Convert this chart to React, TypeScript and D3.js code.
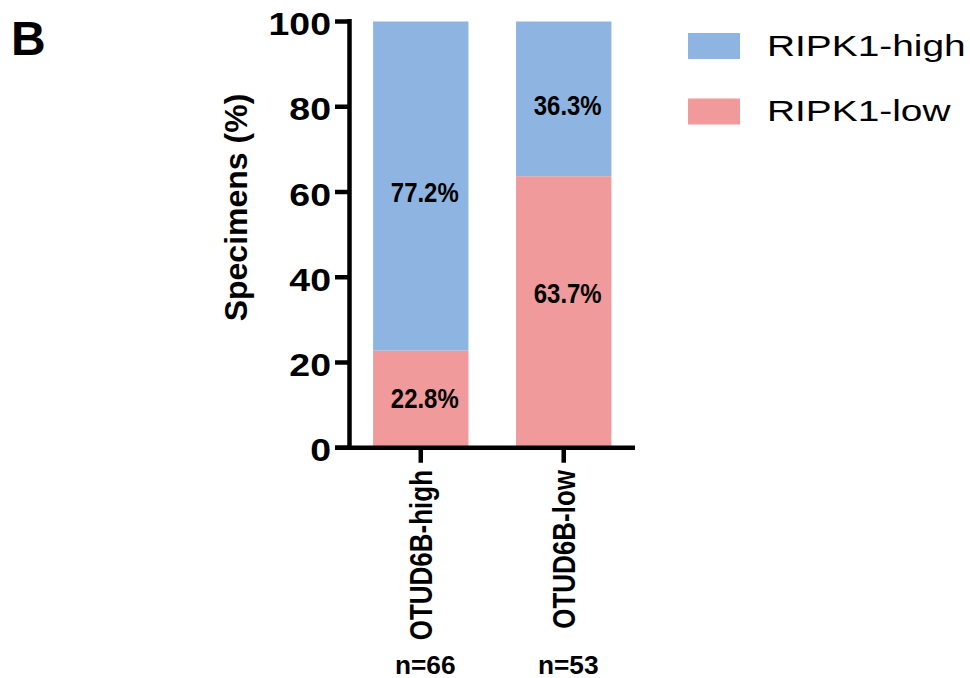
import React from "react";
import * as d3 from "d3";

const categories = ["OTUD6B-high", "OTUD6B-low"];
const sampleSizes = [66, 53];
const seriesNames = ["RIPK1-high", "RIPK1-low"];
const ripkHigh = [77.2, 36.3];
const ripkLow = [22.8, 63.7];
const highLabelAt = [60, 80.5];
const lowLabelAt = [11.6, 36.3];
const yTicks = [0, 20, 40, 60, 80, 100];

const COLORS: Record<string, string> = { "RIPK1-high": "#8EB5E2", "RIPK1-low": "#F09A9B" };
const FONT = "'Liberation Sans', Arial, Helvetica, sans-serif";

function T(props: {
  x: number; y: number; sx?: number; rot?: boolean; anchor?: string;
  size: number; weight?: string | number; children: React.ReactNode;
}) {
  const { x, y, sx = 1, rot = false, anchor = "start", size, weight = "bold", children } = props;
  return (
    <text
      transform={`translate(${x},${y}) scale(${sx},1)${rot ? " rotate(-90)" : ""}`}
      textAnchor={anchor}
      fontSize={size}
      fontWeight={weight}
      fontFamily={FONT}
      fill="#000"
    >
      {children}
    </text>
  );
}

export default function App() {
  const W = 970, H = 678;
  const axisX = 349.5;
  const y = d3.scaleLinear().domain([0, 100]).range([447.75, 21.5]);
  const x = d3.scaleBand<string>().domain(categories).range([axisX, 635]).paddingInner(0.333).paddingOuter(0.165);

  const rows = categories.map((c, i) => ({ cat: c, "RIPK1-high": ripkHigh[i], "RIPK1-low": ripkLow[i] }));
  const stack = d3.stack<any>().keys(["RIPK1-low", "RIPK1-high"]);
  const series = stack(rows);

  const labelAt: Record<string, number[]> = { "RIPK1-high": highLabelAt, "RIPK1-low": lowLabelAt };
  const values: Record<string, number[]> = { "RIPK1-high": ripkHigh, "RIPK1-low": ripkLow };

  const lw = 4.5;
  const barFs = 27.5;
  const tickFs = 32;

  return (
    <svg width={W} height={H} style={{ position: "absolute", left: 0, top: 0, background: "#fff" }}>
      <rect x={0} y={0} width={W} height={H} fill="#fff" />
      {/* panel letter */}
      <T x={11} y={55} size={48}>B</T>

      {/* bars */}
      {series.map((s) => (
        <g key={s.key}>
          {s.map((d, i) => (
            <rect
              key={i}
              x={x(categories[i])!}
              y={y(d[1])}
              width={x.bandwidth()}
              height={y(d[0]) - y(d[1])}
              fill={COLORS[s.key]}
            />
          ))}
        </g>
      ))}

      {/* bar value labels */}
      {seriesNames.map((k) =>
        categories.map((c, i) => (
          <T key={k + c} x={x(c)! + x.bandwidth() / 2 + 4} y={y(labelAt[k][i]) + 0.36 * barFs} sx={0.87} anchor="middle" size={barFs}>
            {values[k][i].toFixed(1) + "%"}
          </T>
        ))
      )}

      {/* y axis */}
      <line x1={axisX} x2={axisX} y1={y(100) - 2.5} y2={y(0) + lw / 2} stroke="#000" strokeWidth={lw} />
      {yTicks.map((t) => (
        <g key={t}>
          <line x1={335} x2={axisX} y1={y(t)} y2={y(t)} stroke="#000" strokeWidth={lw} />
          <T x={331} y={y(t) + 13.5} sx={1.17} anchor="end" size={tickFs}>{t}</T>
        </g>
      ))}

      {/* x axis */}
      <line x1={335} x2={635} y1={y(0)} y2={y(0)} stroke="#000" strokeWidth={lw} />
      {categories.map((c, i) => {
        const cx = x(c)! + x.bandwidth() / 2;
        return (
          <g key={c}>
            <line x1={cx} x2={cx} y1={y(0)} y2={y(0) + 15} stroke="#000" strokeWidth={lw} />
            <T x={cx + 11} y={470} sx={1.18} rot anchor="end" size={26}>{c}</T>
            <T x={cx + 4.5} y={674} sx={1.05} anchor="middle" size={25}>{"n=" + sampleSizes[i]}</T>
          </g>
        );
      })}

      {/* y title */}
      <T x={247} y={207.5} rot anchor="middle" size={32}>Specimens (%)</T>

      {/* legend */}
      {seriesNames.map((k, i) => (
        <g key={k}>
          <rect x={688} y={33 + i * 65.5} width={52} height={26} fill={COLORS[k]} />
          <T x={767} y={56 + i * 65} sx={1.34} size={29} weight="normal">{k}</T>
        </g>
      ))}
    </svg>
  );
}
